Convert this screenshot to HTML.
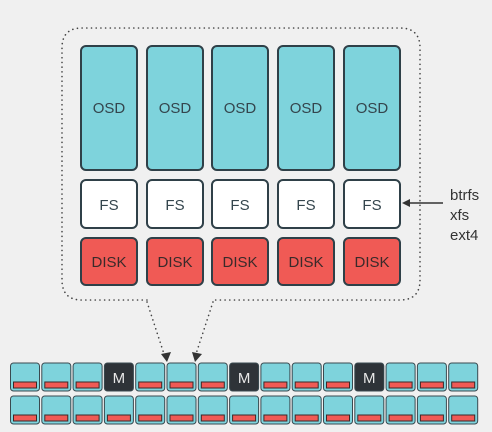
<!DOCTYPE html>
<html><head><meta charset="utf-8"><style>
html,body{margin:0;padding:0;background:#f0f0f0;}
svg{display:block;font-family:"Liberation Sans",sans-serif;}
</style></head><body>
<svg id="s" width="492" height="432" viewBox="0 0 492 432">
<rect x="0" y="0" width="492" height="432" fill="#f0f0f0"/>
<path d="M147,300 L82,300 Q62,300 62,280 L62,48 Q62,28 82,28 L400,28 Q420,28 420,48 L420,280 Q420,300 400,300 L213,300" fill="none" stroke="#444" stroke-width="1.6" stroke-dasharray="0.1 4.6" stroke-linecap="round"/>
<path d="M147,302 L164,354" fill="none" stroke="#444" stroke-width="1.6" stroke-dasharray="0.1 4.6" stroke-linecap="round"/>
<path d="M213,302 L196,354" fill="none" stroke="#444" stroke-width="1.6" stroke-dasharray="0.1 4.6" stroke-linecap="round"/>
<polygon points="161,354 171,352 167,362" fill="#333"/>
<polygon points="192,352 202,354 195,362" fill="#333"/>
<g id="cols"></g>
<line x1="443" y1="203" x2="408" y2="203" stroke="#333" stroke-width="1.5"/>
<polygon points="402,203 410,199 410,207" fill="#333"/>
<text x="450" y="200" font-size="15" fill="#333">btrfs</text>
<text x="450" y="220" font-size="15" fill="#333">xfs</text>
<text x="450" y="240" font-size="15" fill="#333">ext4</text>
<g id="grid"></g>
</svg>
<script>
var ns="http://www.w3.org/2000/svg";
function mk(t,a,p){var e=document.createElementNS(ns,t);for(var k in a)e.setAttribute(k,a[k]);p.appendChild(e);return e;}
var cols=document.getElementById('cols');
var colX=[81,147,212,278,344];
colX.forEach(function(x,i){
  var r=mk('rect',{x:x,y:46,width:56,height:124,rx:5,fill:'#7ed3dc',stroke:'#2f4048','stroke-width':2},cols);
  
  
  var t=mk('text',{x:x+28,y:113,'font-size':15,'text-anchor':'middle',fill:'#34454d'},cols);t.textContent='OSD';
  
  
  var f=mk('rect',{x:x,y:180,width:56,height:48,rx:5,fill:'#ffffff',stroke:'#2f4048','stroke-width':2},cols);
  
  
  var ft=mk('text',{x:x+28,y:210,'font-size':15,'text-anchor':'middle',fill:'#34454d'},cols);ft.textContent='FS';
  
  
  var d=mk('rect',{x:x,y:238,width:56,height:47,rx:5,fill:'#f05a55',stroke:'#2f4048','stroke-width':2},cols);
  
  
  var dt=mk('text',{x:x+28,y:267,'font-size':15,'text-anchor':'middle',fill:'#3a2a2a'},cols);dt.textContent='DISK';
  
  
});
var grid=document.getElementById('grid');
var mons=[3,7,11];
for(var row=0;row<2;row++){
  for(var c=0;c<15;c++){
    var x=10.5+c*31.3, y=row===0?363:396;
    var isM=row===0&&mons.indexOf(c)>=0;
    var cell=mk('rect',{x:x,y:y,width:29,height:28,rx:3,fill:isM?'#2e3338':'#7ed3dc',stroke:'#3a4a50','stroke-width':1},grid);
    
    
    if(isM){
      var mt=mk('text',{x:x+14.5,y:y+20,'font-size':15,'text-anchor':'middle',fill:'#e8e8e8'},grid);mt.textContent='M';
      
      
    } else {
      var b=mk('rect',{x:x+3,y:y+19,width:23,height:6,fill:'#f05a55',stroke:'#3a2a2a','stroke-width':1},grid);
      
      
    }
  }
}
</script>
</body></html>
